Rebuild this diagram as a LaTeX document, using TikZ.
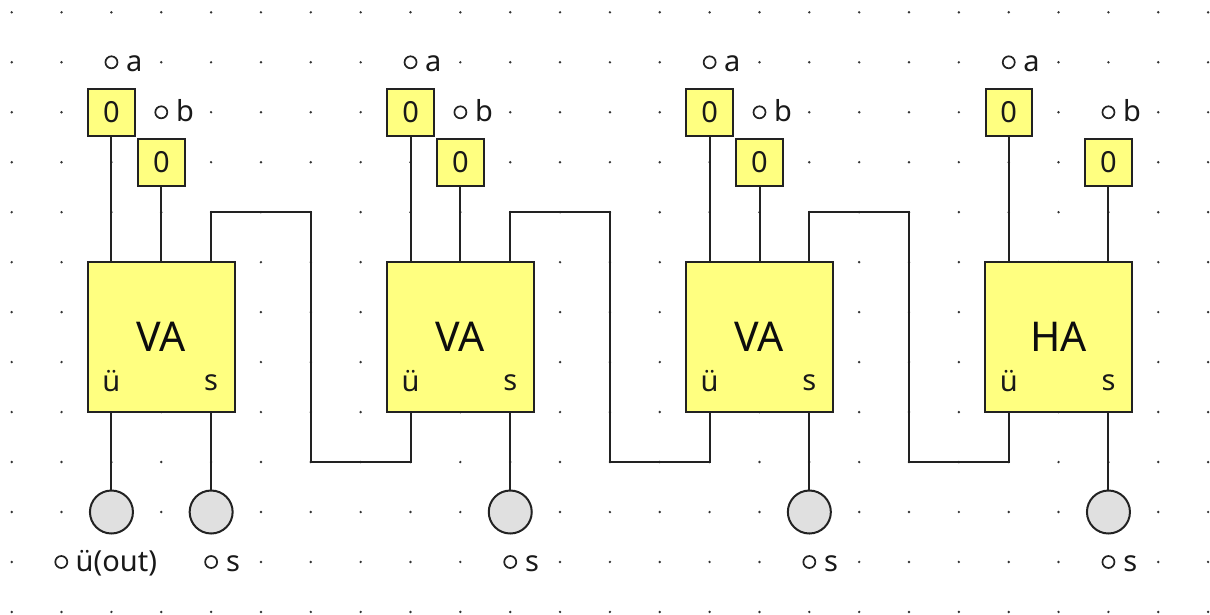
\documentclass[tikz,border=0pt]{standalone}
\usepackage{fontspec}
\setmainfont{Noto Sans}
\definecolor{boxyellow}{HTML}{FFFF80}
\definecolor{lampgray}{HTML}{E0E0E0}
\definecolor{wirecol}{HTML}{222222}
\tikzset{
  griddot/.style={circle,fill=black!80,inner sep=0pt,minimum size=2.7pt},
  inbox/.style={draw=wirecol,line width=2pt,fill=boxyellow,minimum size=46.5pt,inner sep=0pt,font=\fontsize{29}{32}\selectfont,text=black!90},
  addbox/.style={draw=wirecol,line width=2pt,fill=boxyellow,minimum width=146.5pt,minimum height=150.5pt,inner sep=0pt},
  lamp/.style={circle,draw=wirecol,line width=2pt,fill=lampgray,minimum size=43pt,inner sep=0pt},
  port/.style={circle,draw=wirecol,line width=1.7pt,fill=white,minimum size=12pt,inner sep=0pt},
  txt/.style={inner sep=0pt,text=black!90,font=\fontsize{29}{32}\selectfont},
  bigtxt/.style={inner sep=0pt,text=black!95,font=\fontsize{41}{46}\selectfont},
  wire/.style={draw=wirecol,line width=2pt}
}
\begin{document}
\begin{tikzpicture}[x=1pt,y=-1pt]
\useasboundingbox (0,0) rectangle (1210,614);
% background dot grid
\foreach \gy in {0,...,12}{
  \foreach \gx in {0,...,24}{
    \node[griddot] at ({11.7+49.85*\gx},{12.3+49.97*\gy}) {};
  }
}
\fill[white] (80,548) rectangle (164,576);
% adders
\foreach \n/\cx/\lab/\bx in {1/161.3/VA/161.3,2/460.4/VA/460.4,3/759.5/VA/759.5,4/1058.6/HA/1108.45}{
  \node[addbox] (add\n) at (\cx,337) {};
  \node[bigtxt] (name\n) at (\cx,337) {\lab};
  \node[txt] (carrylab\n) at ({\cx-49.85},381) {ü};
  \node[txt] (sumlab\n) at ({\cx+49.85},383) {s};
  \node[lamp] (lamps\n) at ({\cx+49.85},512) {};
  \node[port] (ports\n) at ({\cx+49.85},562) {};
  \node[txt,anchor=base west] (slab\n) at ({\cx+64.5},571) {s};
  \coordinate (cin\n) at ({\cx-49.85},512);
  \coordinate (top\n) at ({\cx+149.5},212.3);
  \coordinate (bot\n) at ({\cx+149.5},462.2);
  % input a
  \node[inbox] (ina\n) at ({\cx-49.85},112.3) {0};
  \node[port] (porta\n) at ({\cx-49.85},62.3) {};
  \node[txt,anchor=base west] (alab\n) at ({\cx-35.5},71.5) {a};
  \draw[wire] (ina\n) -- (ina\n |- add\n.north);
  % input b
  \node[inbox] (inb\n) at (\bx,162.3) {0};
  \node[port] (portb\n) at (\bx,112.3) {};
  \node[txt,anchor=base west] (blab\n) at ({\bx+14.5},121.5) {b};
  \draw[wire] (inb\n) -- (inb\n |- add\n.north);
  % sum output
  \draw[wire] (add\n.south -| lamps\n) -- (lamps\n);
}
% carry chain
\foreach \n/\m in {1/2,2/3,3/4}{
  \draw[wire] (add\n.north -| lamps\n) |- (top\n) -- (bot\n) -| (add\m.south -| cin\m);
}
% carry out
\node[lamp] (lampc) at (cin1) {};
\node[port] (portc) at (61.3,562) {};
\node[txt,anchor=base west] (clab) at (75.5,571.5) {ü(out)};
\draw[wire] (add1.south -| lampc) -- (lampc);
\end{tikzpicture}
\end{document}
